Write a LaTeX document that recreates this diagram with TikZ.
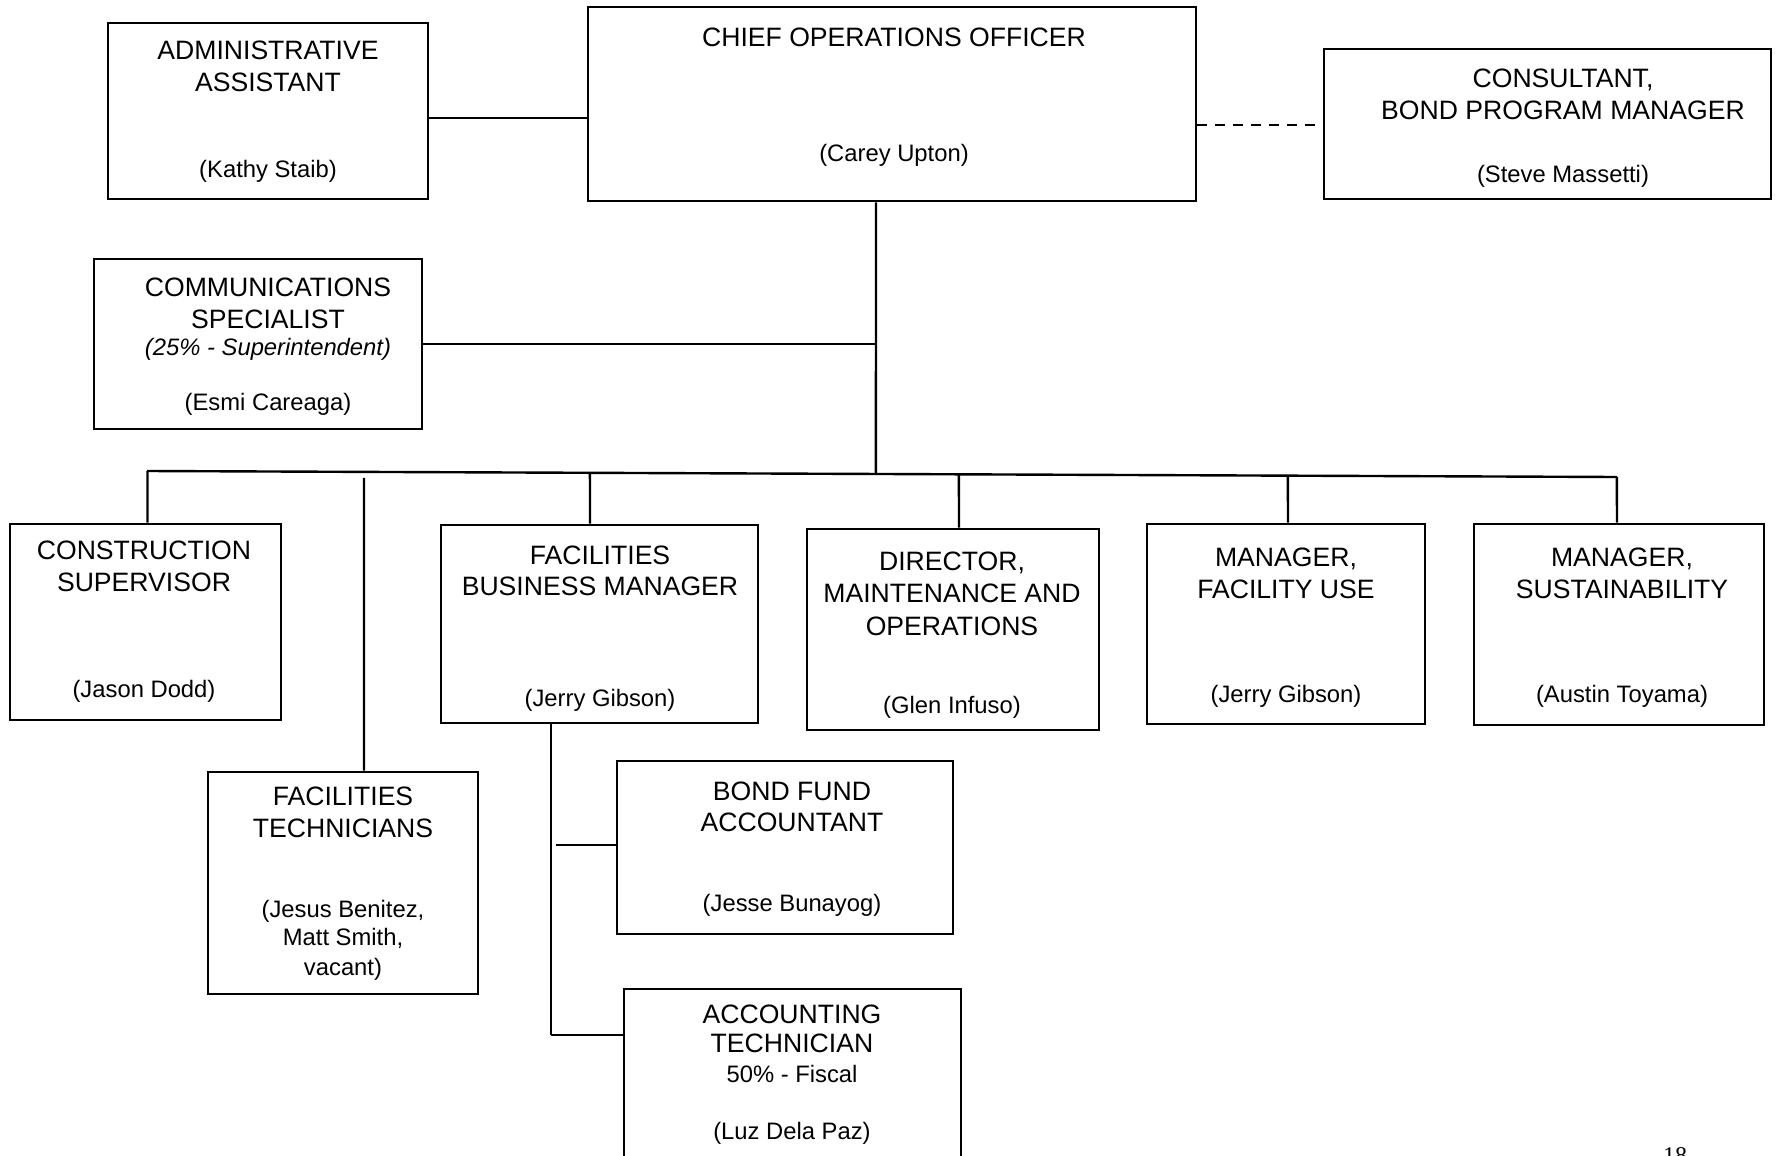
\documentclass[tikz,border=0pt]{standalone}
\usepackage{fontspec}
\setmainfont{Liberation Sans}
\newfontfamily\pagefont{Liberation Serif}
\begin{document}
\begin{tikzpicture}[x=0.5pt,y=-0.5pt,
  box/.style={draw,line width=1.4pt,rectangle,inner sep=0pt},
  conn/.style={line width=1.2pt},
  ttl/.style={anchor=base,inner sep=0pt,font=\fontsize{13.3}{16}\selectfont},
  nm/.style={anchor=base,inner sep=0pt,font=\fontsize{11.9}{14}\selectfont},
  it/.style={nm,font=\fontsize{11.9}{14}\selectfont\itshape}]
\useasboundingbox (0,0) rectangle (1779,1156);
\clip (0,0) rectangle (1779,1156);

% boxes
\node[box,minimum width=160pt,minimum height=88pt] (admin) at (268,111) {};
\node[box,minimum width=304pt,minimum height=97pt] (coo) at (892,104) {};
\node[box,minimum width=223.5pt,minimum height=75pt] (cons) at (1547.5,124) {};
\node[box,minimum width=164pt,minimum height=85pt] (comm) at (258,344) {};
\node[box,minimum width=135.5pt,minimum height=98pt] (constr) at (145.5,622) {};
\node[box,minimum width=158.5pt,minimum height=99pt] (fbm) at (599.5,624) {};
\node[box,minimum width=146pt,minimum height=100.5pt] (dir) at (953,629.5) {};
\node[box,minimum width=139pt,minimum height=100pt] (fuse) at (1286,624) {};
\node[box,minimum width=145pt,minimum height=100.5pt] (sust) at (1619,624.5) {};
\node[box,minimum width=135pt,minimum height=111pt] (ftech) at (343,883) {};
\node[box,minimum width=168pt,minimum height=86.5pt] (bfa) at (785,847.5) {};
\node[box,minimum width=168.5pt,minimum height=95.5pt] (acct) at (792.5,1084.5) {};

% texts
\node[ttl] (admin1) at (268,60) {ADMINISTRATIVE};
\node[ttl] (admin2) at (268,92) {ASSISTANT};
\node[nm]  (admin3) at (268,177) {(Kathy Staib)};

\node[ttl] (coo1) at (894,47) {CHIEF OPERATIONS OFFICER};
\node[nm]  (coo2) at (894,162) {(Carey Upton)};

\node[ttl] (cons1) at (1563,88) {CONSULTANT,};
\node[ttl] (cons2) at (1563,120) {BOND PROGRAM MANAGER};
\node[nm]  (cons3) at (1563,183) {(Steve Massetti)};

\node[ttl] (comm1) at (268,296) {COMMUNICATIONS};
\node[ttl] (comm2) at (268,328) {SPECIALIST};
\node[it]  (comm3) at (268,355) {(25\% - Superintendent)};
\node[nm]  (comm4) at (268,410) {(Esmi Careaga)};

\node[ttl] (constr1) at (144,559) {CONSTRUCTION};
\node[ttl] (constr2) at (144,591) {SUPERVISOR};
\node[nm]  (constr3) at (144,697) {(Jason Dodd)};

\node[ttl] (fbm1) at (600,564) {FACILITIES};
\node[ttl] (fbm2) at (600,595) {BUSINESS MANAGER};
\node[nm]  (fbm3) at (600,706) {(Jerry Gibson)};

\node[ttl] (dir1) at (952,570) {DIRECTOR,};
\node[ttl] (dir2) at (952,602) {MAINTENANCE AND};
\node[ttl] (dir3) at (952,635) {OPERATIONS};
\node[nm]  (dir4) at (952,713) {(Glen Infuso)};

\node[ttl] (fuse1) at (1286,566) {MANAGER,};
\node[ttl] (fuse2) at (1286,598) {FACILITY USE};
\node[nm]  (fuse3) at (1286,702) {(Jerry Gibson)};

\node[ttl] (sust1) at (1622,566) {MANAGER,};
\node[ttl] (sust2) at (1622,598) {SUSTAINABILITY};
\node[nm]  (sust3) at (1622,702) {(Austin Toyama)};

\node[ttl] (ftech1) at (343,805) {FACILITIES};
\node[ttl] (ftech2) at (343,837) {TECHNICIANS};
\node[nm]  (ftech3) at (343,917) {(Jesus Benitez,};
\node[nm]  (ftech4) at (343,945) {Matt Smith,};
\node[nm]  (ftech5) at (343,975) {vacant)};

\node[ttl] (bfa1) at (792,800) {BOND FUND};
\node[ttl] (bfa2) at (792,831) {ACCOUNTANT};
\node[nm]  (bfa3) at (792,911) {(Jesse Bunayog)};

\node[ttl] (acct1) at (792,1023) {ACCOUNTING};
\node[ttl] (acct2) at (792,1052) {TECHNICIAN};
\node[nm]  (acct3) at (792,1082) {50\% - Fiscal};
\node[nm]  (acct4) at (792,1139) {(Luz Dela Paz)};

\node[anchor=base,inner sep=0pt,font=\pagefont\fontsize{12}{14}\selectfont] (pg) at (1675,1163) {18};

% connectors
\coordinate (aL) at ([yshift=-3.5pt]admin.east);
\draw[conn] (aL) -- (aL -| coo.west);
\coordinate (cL) at ([yshift=-10.5pt]coo.east);
\draw[conn,dash pattern=on 5pt off 4pt] (cL) -- (cL -| cons.west);

\coordinate (busL) at (147,471);
\coordinate (busR) at (1617,477);
\draw[conn] (busL) -- (busR);

\coordinate (ctop) at ([xshift=-8pt]coo.south);
\coordinate (ctopB) at ([yshift=-200pt]ctop);
\draw[conn] (ctop) -- (intersection of busL--busR and ctop--ctopB);
\draw[conn] (comm.east) -- (comm.east -| ctop);

\foreach \d/\nd/\sh in {d1/constr/1pt, d2/fbm/-4.75pt, d3/dir/3pt, d4/fuse/1pt, d5/sust/-1pt}{
  \coordinate (\d) at ([xshift=\sh]\nd.north);
  \coordinate (\d u) at ([yshift=50pt]\d);
  \draw[conn] (intersection of busL--busR and \d--\d u) -- (\d);
}
\coordinate (d6) at ([xshift=10.5pt]ftech.north);
\coordinate (d6u) at ([yshift=200pt]d6);
\draw[conn] ([yshift=-3pt]intersection of busL--busR and d6--d6u) -- (d6);

\coordinate (fb) at ([xshift=-24.25pt]fbm.south);
\coordinate (fbEnd) at (fb |- 0,1035);
\draw[conn] (fb) -- (fbEnd);
\coordinate (bj) at ([yshift=1.25pt]bfa.west);
\draw[conn] ([xshift=2.5pt]bj -| fb) -- (bj);
\draw[conn] (fbEnd) -- (fbEnd -| acct.west);
\end{tikzpicture}
\end{document}
